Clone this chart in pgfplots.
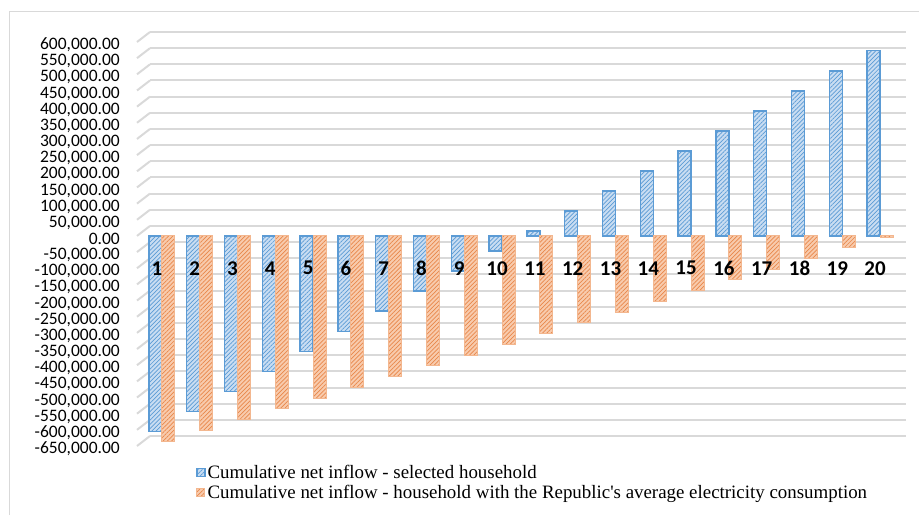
\documentclass[border=0pt]{standalone}
\usepackage{pgfplots}
\pgfplotsset{compat=1.18}
\usepackage{fontspec}
\setmainfont{Carlito}
\newfontfamily\tnr{Liberation Serif}
\usetikzlibrary{patterns.meta}
\definecolor{bblue}{HTML}{5B9BD5}
\definecolor{bfill}{HTML}{C9DDF2}
\definecolor{ofill}{HTML}{F8CBAD}
\definecolor{oline}{HTML}{E8874A}
\definecolor{gridc}{HTML}{D9D9D9}
\begin{document}
\begin{tikzpicture}[x=1pt,y=1pt]
\useasboundingbox (0,0) rectangle (919,515);
\draw[gridc, line width=1pt] (9,0) -- (9,503) -- (919,503);
\begin{axis}[
  at={(143pt,69pt)}, anchor=south west, scale only axis,
  width=756pt, height=404pt, clip=false,
  xmin=0.5, xmax=20.5, ymin=-650000, ymax=600000,
  ybar=0pt, bar width=13pt,
  axis line style={draw=none}, major tick length=0pt,
  ytick={-650000,-600000,...,600000},
  ymajorgrids, major grid style={gridc, line width=2pt, xshift=7pt, yshift=10pt},
  xtick=\empty,
  yticklabel style={font=\fontsize{17.5}{17.5}\selectfont, anchor=east, inner sep=0pt, xshift=-23pt, yshift=-3pt},
  scaled y ticks=false,
  yticklabel={\pgfmathprintnumber[fixed, fixed zerofill, precision=2, 1000 sep={,}, assume math mode=true]{\tick}},
  legend cell align=left,
  legend image code/.code={\path[#1] (0pt,-4pt) rectangle (8pt,4pt);},
  legend style={at={(rel axis cs:0.070,-0.042)}, anchor=north west, draw=none, fill=none,
    font=\tnr\fontsize{18.9}{22}\selectfont, inner sep=0pt, row sep=1pt},
]
\pgfplotsinvokeforeach{-650000,-600000,-550000,-500000,-450000,-400000,-350000,-300000,-250000,-200000,-150000,-100000,-50000,0,50000,100000,150000,200000,250000,300000,350000,400000,450000,500000,550000,600000}{\draw[gridc, line width=2pt] (axis cs:0.5,#1) ++(-6pt,0pt) -- ++(13pt,10pt);}
\addplot[draw=bblue, line width=1.5pt, fill=bfill,
  postaction={pattern={Lines[angle=45,distance=3pt,line width=0.7pt]}, pattern color=bblue}]
coordinates {(1,-605000) (2,-543000) (3,-481000) (4,-419000) (5,-357000) (6,-295000) (7,-233000) (8,-171000) (9,-109000) (10,-47000) (11,15000) (12,77000) (13,139000) (14,201000) (15,263000) (16,325000) (17,387000) (18,449000) (19,511000) (20,573000)};
\addplot[draw=ofill!70!oline, line width=1pt, fill=ofill,
  postaction={pattern={Lines[angle=45,distance=3pt,line width=0.7pt]}, pattern color=oline}]
coordinates {(1,-635000) (2,-602000) (3,-568000) (4,-535000) (5,-502000) (6,-469000) (7,-435000) (8,-402000) (9,-369000) (10,-336000) (11,-302000) (12,-269000) (13,-236000) (14,-203000) (15,-170000) (16,-136000) (17,-103000) (18,-70000) (19,-37000) (20,-4000)};
\legend{Cumulative net inflow - selected household, Cumulative net inflow - household with the Republic's average electricity consumption}
\pgfplotsinvokeforeach{1,...,20}{\node[font=\bfseries\fontsize{21}{21}\selectfont, anchor=center, xshift=-5pt] at (axis cs:#1,-100000) {#1};}
\end{axis}
\end{tikzpicture}
\end{document}
